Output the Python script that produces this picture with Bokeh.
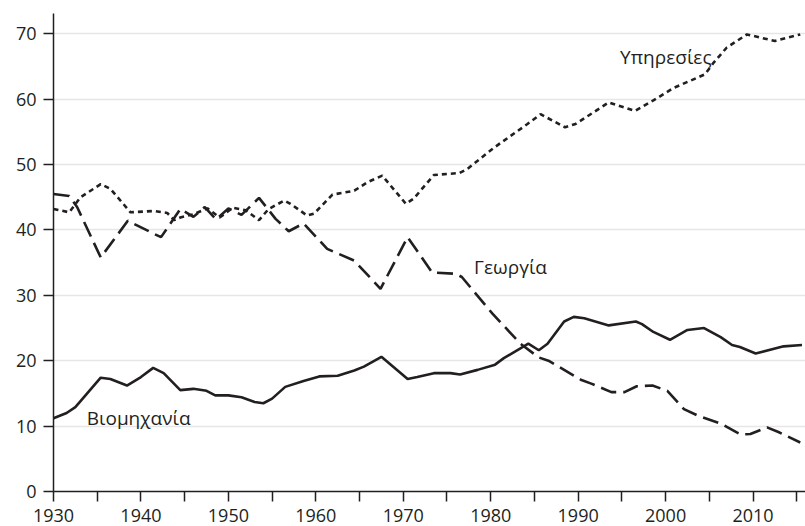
from bokeh.plotting import figure
from bokeh.models import Range1d, FixedTicker, Label, ColumnDataSource
from bokeh.embed import file_html
from bokeh.resources import INLINE

# ---- data ----
industry_years = [1930, 1931.5, 1932.5, 1935.4, 1936.5, 1938.4, 1940, 1941.4, 1942.6, 1944.5,
                  1946, 1947.5, 1948.5, 1950, 1951.5, 1953, 1954, 1955, 1956.5, 1958.6,
                  1960.4, 1962.5, 1964.4, 1965.5, 1967.5, 1970.5, 1971.6, 1973.5, 1975.4, 1976.5,
                  1978.5, 1980.5, 1981.5, 1983.4, 1984.3, 1985.5, 1986.5, 1988.4, 1989.5, 1990.7,
                  1993.5, 1996.6, 1997.3, 1998.6, 2000.5, 2002.5, 2004.4, 2006.3, 2007.6, 2008.5,
                  2010.3, 2013.5, 2015.6]
industry = [11.2, 12.0, 12.9, 17.4, 17.2, 16.2, 17.5, 18.9, 18.1, 15.5,
            15.7, 15.4, 14.7, 14.7, 14.4, 13.7, 13.5, 14.2, 16.0, 16.9,
            17.6, 17.7, 18.5, 19.1, 20.6, 17.2, 17.5, 18.1, 18.1, 17.9,
            18.6, 19.4, 20.4, 21.9, 22.6, 21.6, 22.6, 26.0, 26.7, 26.5,
            25.4, 26.0, 25.6, 24.4, 23.2, 24.7, 25.0, 23.6, 22.4, 22.1,
            21.1, 22.2, 22.4]

services_years = [1930, 1931.8, 1933.1, 1935.4, 1936.5, 1938.8, 1941.5, 1943, 1943.8, 1944.5,
                  1946, 1947.6, 1949, 1950.5, 1952, 1953.5, 1954.6, 1956.4, 1957.1, 1959,
                  1959.8, 1961.9, 1964.4, 1965.9, 1967.6, 1970.3, 1971.2, 1973.5, 1976.4, 1977.3,
                  1980.4, 1984.2, 1985.7, 1988.5, 1989.7, 1993.5, 1996.5, 1998.6, 2000.9, 2004.5,
                  2005.5, 2007, 2009.3, 2012.5, 2015.4]
services = [43.2, 42.7, 45.0, 47.0, 46.3, 42.7, 42.9, 42.6, 41.5, 41.9,
            42.4, 43.3, 41.9, 43.4, 43.0, 41.5, 43.2, 44.5, 44.0, 42.2,
            42.5, 45.4, 46.0, 47.3, 48.3, 44.0, 44.8, 48.4, 48.7, 49.3,
            52.6, 56.2, 57.7, 55.7, 56.2, 59.5, 58.2, 59.8, 61.7, 63.8,
            65.6, 67.9, 69.9, 68.9, 69.9]

agri_years = [1930, 1931.8, 1932.7, 1935.4, 1938.5, 1941.5, 1942.3, 1944.5, 1946, 1947.3,
              1948.6, 1950, 1951.5, 1953.5, 1955.4, 1956.9, 1958.6, 1961.3, 1964.4, 1967.4,
              1970.5, 1973.3, 1976, 1976.7, 1980.2, 1983.4, 1985.5, 1986.6, 1990.3, 1991.5,
              1993.8, 1995.3, 1996.7, 1998.5, 2000.2, 2002.1, 2003.7, 2006.3, 2008.6, 2009.7,
              2011.6, 2012.9, 2015.4]
agriculture = [45.5, 45.2, 43.5, 35.8, 41.4, 39.4, 38.9, 43.2, 42.0, 43.5,
               41.6, 43.3, 42.3, 44.9, 41.7, 39.8, 41.0, 37.1, 35.3, 31.0,
               38.9, 33.5, 33.3, 32.8, 27.2, 22.6, 20.5, 20.0, 17.1, 16.5,
               15.2, 15.2, 16.1, 16.2, 15.4, 12.6, 11.6, 10.4, 8.7, 8.8,
               9.8, 9.1, 7.5]

x_major = [1930, 1940, 1950, 1960, 1970, 1980, 1990, 2000, 2010]
x_minor = [1935, 1945, 1955, 1965, 1975, 1985, 1995, 2005, 2015]
y_major = [0, 10, 20, 30, 40, 50, 60, 70]

label_services = "Υπηρεσίες"
label_industry = "Βιομηχανία"
label_agri = "Γεωργία"

INK = "#231f20"
FONT = "Open Sans"

p = figure(width=805, height=526, output_backend="svg", toolbar_location=None,
           x_range=Range1d(1930, 2016), y_range=Range1d(0, 73.1),
           min_border_left=53, min_border_right=0, min_border_top=13, min_border_bottom=35)
p.outline_line_color = None
p.background_fill_color = "white"
p.border_fill_color = "white"

# axes
xa = p.xaxis[0]
xa.ticker = FixedTicker(ticks=x_major, minor_ticks=x_minor)
xa.axis_line_color = INK
xa.axis_line_width = 1.5
xa.major_tick_line_color = INK
xa.minor_tick_line_color = INK
xa.major_tick_line_width = 1.5
xa.minor_tick_line_width = 1.5
xa.major_tick_out = 10
xa.major_tick_in = 0
xa.minor_tick_out = 10
xa.minor_tick_in = 0
xa.major_label_standoff = 7
xa.major_label_text_font = FONT
xa.major_label_text_font_size = "18px"
xa.major_label_text_color = INK

ya = p.yaxis[0]
ya.ticker = FixedTicker(ticks=y_major, minor_ticks=[])
ya.axis_line_color = INK
ya.axis_line_width = 1.5
ya.major_tick_line_color = INK
ya.major_tick_line_width = 1.5
ya.major_tick_out = 10
ya.major_tick_in = 0
ya.minor_tick_line_color = None
ya.major_label_standoff = 7
ya.major_label_text_font = FONT
ya.major_label_text_font_size = "18px"
ya.major_label_text_color = INK

p.xgrid.grid_line_color = None
p.ygrid.ticker = FixedTicker(ticks=y_major[1:])
p.ygrid.grid_line_color = "#e6e6e6"
p.ygrid.grid_line_width = 1.5

src_ind = ColumnDataSource(dict(x=industry_years, y=industry))
src_srv = ColumnDataSource(dict(x=services_years, y=services))
src_agr = ColumnDataSource(dict(x=agri_years, y=agriculture))

p.line("x", "y", source=src_srv, line_color=INK, line_width=2.6, line_dash="5 4")
p.line("x", "y", source=src_agr, line_color=INK, line_width=2.6, line_dash="16 7")
p.line("x", "y", source=src_ind, line_color=INK, line_width=2.6)

for txt, lx, ly in [(label_services, 1994.8, 66.4), (label_industry, 1933.8, 11.3), (label_agri, 1978.1, 34.4)]:
    p.add_layout(Label(x=lx, y=ly, text=txt, text_font=FONT, text_font_size="19px",
                       text_color=INK, text_baseline="alphabetic", text_align="left"))

open("out.html", "w").write(file_html(p, INLINE))
